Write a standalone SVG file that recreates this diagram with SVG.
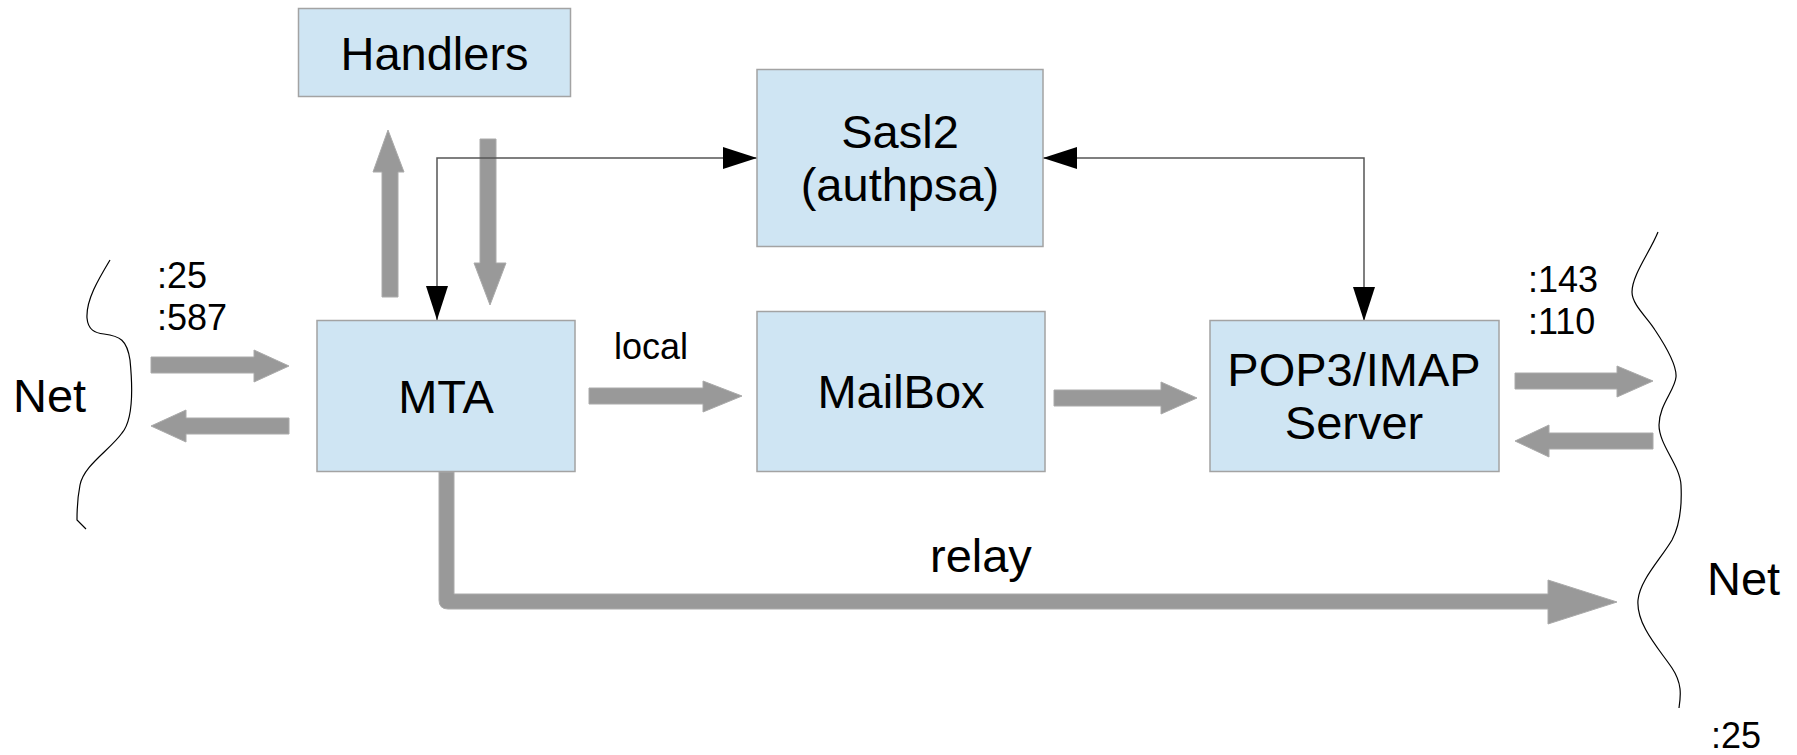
<svg xmlns="http://www.w3.org/2000/svg" width="1797" height="755" viewBox="0 0 1797 755">
<style>
.box{fill:#cfe5f3;stroke:#a3a3a3;stroke-width:1.5}
.t{font-family:"Liberation Sans",Arial,sans-serif;fill:#000}
.big{font-size:47px}
.sm{font-size:36px}
.blk{fill:#999999;stroke:#aaaaaa;stroke-width:1}
.ln{fill:none;stroke:#555555;stroke-width:1.5}
.wave{fill:none;stroke:#000;stroke-width:1.2}
</style>
<defs>
<marker id="ah" markerUnits="userSpaceOnUse" markerWidth="36" markerHeight="24" refX="34" refY="11" orient="auto-start-reverse">
<path d="M0,0 L34,11 L0,22 Z" fill="#000"/>
</marker>
</defs>
<rect width="1797" height="755" fill="#fff"/>
<g id="connectors">
<polygon class="blk" points="382,297 398,297 398,172 404,172 388,130 373,172 382,172"/>
<polygon class="blk" points="480,139 496,139 496,263 506,263 490,305 474,263 480,263"/>
<polygon class="blk" points="151,357 254,357 254,350 289,366 254,382 254,373 151,373"/>
<polygon class="blk" points="289,418 186,418 186,410 151,426 186,442 186,434 289,434"/>
<polygon class="blk" points="589,388 703,388 703,381 742,396 703,412 703,404 589,404"/>
<polygon class="blk" points="1054,390 1161,390 1161,382 1197,398 1161,414 1161,406 1054,406"/>
<polygon class="blk" points="1515,373 1617,373 1617,366 1653,381 1617,397 1617,389 1515,389"/>
<polygon class="blk" points="1653,433 1549,433 1549,425 1515,441 1549,457 1549,449 1653,449"/>
<path class="blk" d="M439,472 L439,600 Q439,609 448,609 L1548,609 L1548,624 L1617,602 L1548,580 L1548,594 L454,594 L454,472 Z"/>
<path class="ln" d="M437,320 L437,158 L757,158" marker-start="url(#ah)" marker-end="url(#ah)"/>
<path class="ln" d="M1043,158 L1364,158 L1364,321" marker-start="url(#ah)" marker-end="url(#ah)"/>
</g>
<g id="net-left">
<path class="wave" d="M110,260 C98,280 86,300 87,318 C88,330 95,333 104,334 C120,336 127,340 130,360 C133,390 133,420 122,433 C110,450 84,465 80,485 C77,500 77,512 77,520 L86,529"/>
<text class="t big" x="13" y="412">Net</text>
<text class="t sm" x="157" y="288">:25</text>
<text class="t sm" x="157" y="330">:587</text>
</g>
<g id="net-right">
<path class="wave" d="M1658,232 C1650,252 1632,275 1632,292 C1632,305 1648,318 1655,330 C1665,345 1677,365 1676,377 C1675,390 1659,405 1659,425 C1659,445 1680,465 1681,485 C1682,505 1680,525 1672,540 C1660,560 1640,580 1638,600 C1636,625 1660,650 1672,668 C1682,683 1681,695 1679,708"/>
<text class="t big" x="1707" y="595">Net</text>
<text class="t sm" x="1528" y="292">:143</text>
<text class="t sm" x="1528" y="334">:110</text>
<text class="t sm" x="1711" y="748">:25</text>
</g>
<g id="handlers">
<rect class="box" x="298.5" y="8.5" width="272" height="88"/>
<text class="t big" x="434.5" y="70" text-anchor="middle">Handlers</text>
</g>
<g id="sasl2">
<rect class="box" x="757" y="69.5" width="286" height="177"/>
<text class="t big" x="900" y="148" text-anchor="middle">Sasl2</text>
<text class="t big" x="900" y="201" text-anchor="middle">(authpsa)</text>
</g>
<g id="mta">
<rect class="box" x="317" y="320.5" width="258" height="151"/>
<text class="t big" x="446" y="413" text-anchor="middle">MTA</text>
</g>
<g id="mailbox">
<rect class="box" x="757" y="311.5" width="288" height="160"/>
<text class="t big" x="901" y="408" text-anchor="middle">MailBox</text>
</g>
<g id="pop3">
<rect class="box" x="1210" y="320.5" width="289" height="151"/>
<text class="t big" x="1354" y="386" text-anchor="middle">POP3/IMAP</text>
<text class="t big" x="1354" y="439" text-anchor="middle">Server</text>
</g>
<g id="labels">
<text class="t sm" x="614" y="359">local</text>
<text class="t big" x="930" y="572">relay</text>
</g>
</svg>
